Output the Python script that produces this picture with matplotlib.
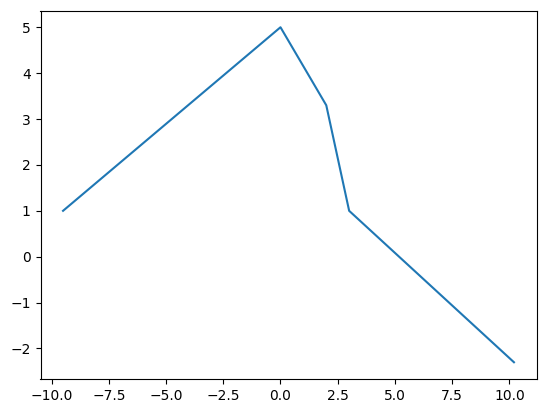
import matplotlib
matplotlib.use("Agg")
import matplotlib.pyplot as plt

x_values = [-9.5, 0, 2, 3, 10.2]
y_values = [1, 5, 3.3, 1, -2.3]

W, H = 546, 413
fig = plt.figure(figsize=(W / 100, H / 100), dpi=100)
ax = fig.add_axes([40.5 / W, 1 - 379 / H, (536.5 - 40.5) / W, (379 - 10.5) / H])
ax.plot(x_values, y_values, color="#1f77b4")
fig.savefig("out.png", dpi=100)
